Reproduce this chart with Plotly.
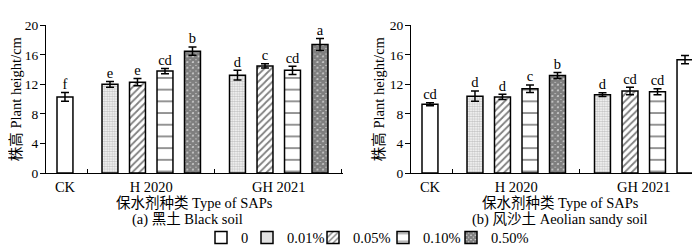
import plotly.graph_objects as go

# ---------------- data ----------------
groups = ["CK", "H 2020", "GH 2021"]
levels = ["0", "0.01%", "0.05%", "0.10%", "0.50%"]

# panel (a) black soil
a_ck = [10.3]
a_ck_err = [0.6]
a_ck_sig = ["f"]
a_h = [12.0, 12.3, 13.8, 16.5]
a_h_err = [0.4, 0.5, 0.35, 0.55]
a_h_sig = ["e", "e", "cd", "b"]
a_gh = [13.25, 14.5, 13.9, 17.4]
a_gh_err = [0.65, 0.3, 0.55, 0.8]
a_gh_sig = ["d", "c", "cd", "a"]

# panel (b) aeolian sandy soil
b_ck = [9.3]
b_ck_err = [0.2]
b_ck_sig = ["cd"]
b_h = [10.4, 10.3, 11.4, 13.2]
b_h_err = [0.7, 0.35, 0.5, 0.4]
b_h_sig = ["d", "d", "c", "b"]
b_gh = [10.6, 11.1, 11.0, 15.35]
b_gh_err = [0.25, 0.5, 0.4, 0.55]
b_gh_sig = ["d", "cd", "cd", ""]

y_ticks = [0, 4, 8, 12, 16, 20]
y_title = "株高 Plant height/cm"

# ---------------- styling ----------------
FONT = "Liberation Serif, Times New Roman, Noto Sans CJK SC, serif"
FS = 14.5
FS_TICK = 13.5
GAP = 0.636          # extra space between groups (in bar slots)
BARW = 0.58

styles = {
    "0":     dict(color="white", pattern=dict(shape="")),
    "0.01%": dict(color="white", pattern=dict(shape=".", fgcolor="#8a8a8a", size=2.5, solidity=0.55)),
    "0.05%": dict(color="white", pattern=dict(shape="/", fgcolor="black", size=5, solidity=0.35)),
    "0.10%": dict(color="white", pattern=dict(shape="-", fgcolor="black", size=11.7, solidity=0.14)),
    "0.50%": dict(color="white", pattern=dict(shape="x", fgcolor="black", size=4, solidity=0.9)),
}

# legend swatch positions (px, left edge)
legend_px = [214, 260, 326, 396, 464]

# slot positions (derived from group/level structure)
ck_pos = 0.0
h_start = 1 + GAP
gh_start = h_start + 4 + GAP
h_pos = [h_start + i for i in range(4)]
gh_pos = [gh_start + i for i in range(4)]
group_centers = [ck_pos, h_start + 1.5, gh_start + 1.5]
x_end = gh_pos[-1] + (h_start - ck_pos) / 2
bounds = [(ck_pos + h_start) / 2, (h_pos[-1] + gh_start) / 2, x_end - 0.03]
x_range = [-0.69, x_end]

fig = go.Figure()


def add_panel(xa, ya, ck, ck_err, ck_sig, h, h_err, h_sig, gh, gh_err, gh_sig, showlegend):
    for li, lev in enumerate(levels):
        st = styles[lev]
        if li == 0:
            xs, ys, es, ss = [ck_pos], ck, ck_err, ck_sig
        else:
            xs = [h_pos[li - 1], gh_pos[li - 1]]
            ys = [h[li - 1], gh[li - 1]]
            es = [h_err[li - 1], gh_err[li - 1]]
            ss = [h_sig[li - 1], gh_sig[li - 1]]
        pat = dict(st["pattern"])
        # the un-lettered bar in panel b is drawn plain in the reference
        if pat.get("shape") and not showlegend:
            pat["shape"] = [pat["shape"] if s != "" else "" for s in ss]
        fig.add_trace(go.Bar(
            x=xs, y=ys, width=BARW, xaxis=xa, yaxis=ya, name=lev,
            legend="legend" if li == 0 else f"legend{li + 1}",
            showlegend=showlegend,
            marker=dict(color=st["color"], line=dict(color="black", width=1.5), pattern=pat),
            error_y=dict(type="data", array=es, visible=True, color="black", thickness=1.5, width=4),
        ))
        fig.add_trace(go.Scatter(
            x=xs, y=[y + e for y, e in zip(ys, es)], xaxis=xa, yaxis=ya,
            mode="text", text=ss, textposition="top center",
            marker=dict(color="black"),
            textfont=dict(family=FONT, size=FS, color="black"),
            showlegend=False, hoverinfo="skip",
        ))


add_panel("x", "y", a_ck, a_ck_err, a_ck_sig, a_h, a_h_err, a_h_sig, a_gh, a_gh_err, a_gh_sig, True)
add_panel("x2", "y2", b_ck, b_ck_err, b_ck_sig, b_h, b_h_err, b_h_sig, b_gh, b_gh_err, b_gh_sig, False)

W, H = 700, 246
ydom = [1 - 169 / H, 1 - 11 / H]

xcommon = dict(
    range=x_range, showline=True, linecolor="black", linewidth=1.2,
    tickmode="array", tickvals=group_centers, ticktext=groups, ticks="",
    tickfont=dict(family=FONT, size=FS, color="black"),
    minor=dict(tickmode="array", tickvals=bounds, ticks="inside", ticklen=4, tickcolor="black", tickwidth=1),
    showgrid=False, zeroline=False, fixedrange=True,
)
ycommon = dict(
    range=[0, 20], showline=True, linecolor="black", linewidth=1.2,
    tickmode="array", tickvals=y_ticks, ticks="outside", ticklen=5, tickcolor="black", tickwidth=1.2,
    ticklabelstandoff=-1,
    tickfont=dict(family=FONT, size=FS_TICK, color="black"),
    title=dict(text=y_title, standoff=1, font=dict(family=FONT, size=FS, color="black")),
    showgrid=False, zeroline=False, fixedrange=True,
)

layout = dict(
    width=W, height=H,
    margin=dict(l=0, r=0, t=0, b=0),
    paper_bgcolor="white", plot_bgcolor="white",
    barmode="overlay",
    font=dict(family=FONT, size=FS, color="black"),
    xaxis=dict(domain=[38 / W, 334.5 / W], anchor="y", **xcommon),
    yaxis=dict(domain=ydom, anchor="x", **ycommon),
    xaxis2=dict(domain=[403 / W, 699.5 / W], anchor="y2", **xcommon),
    yaxis2=dict(domain=ydom, anchor="x2", **ycommon),
    showlegend=True,
)
for li, px in enumerate(legend_px):
    key = "legend" if li == 0 else f"legend{li + 1}"
    layout[key] = dict(
        orientation="h", x=(px - 21) / W, y=1 - 238 / H, xanchor="left", yanchor="middle",
        font=dict(family=FONT, size=FS, color="black"),
        itemwidth=30, bgcolor="rgba(0,0,0,0)",
    )
fig.update_layout(**layout)

ann = [
    ("保水剂种类 Type of SAPs", 186, 201),
    ("保水剂种类 Type of SAPs", 552, 201),
    ("(a) 黑土 Black soil", 180, 219),
    ("(b) 风沙土 Aeolian sandy soil", 552, 219),
]
for txt, px, py in ann:
    fig.add_annotation(
        text=txt, x=px / W, y=1 - py / H, xref="paper", yref="paper",
        xanchor="center", yanchor="middle", showarrow=False,
        font=dict(family=FONT, size=FS, color="black"),
    )

fig.write_html("out.html")
